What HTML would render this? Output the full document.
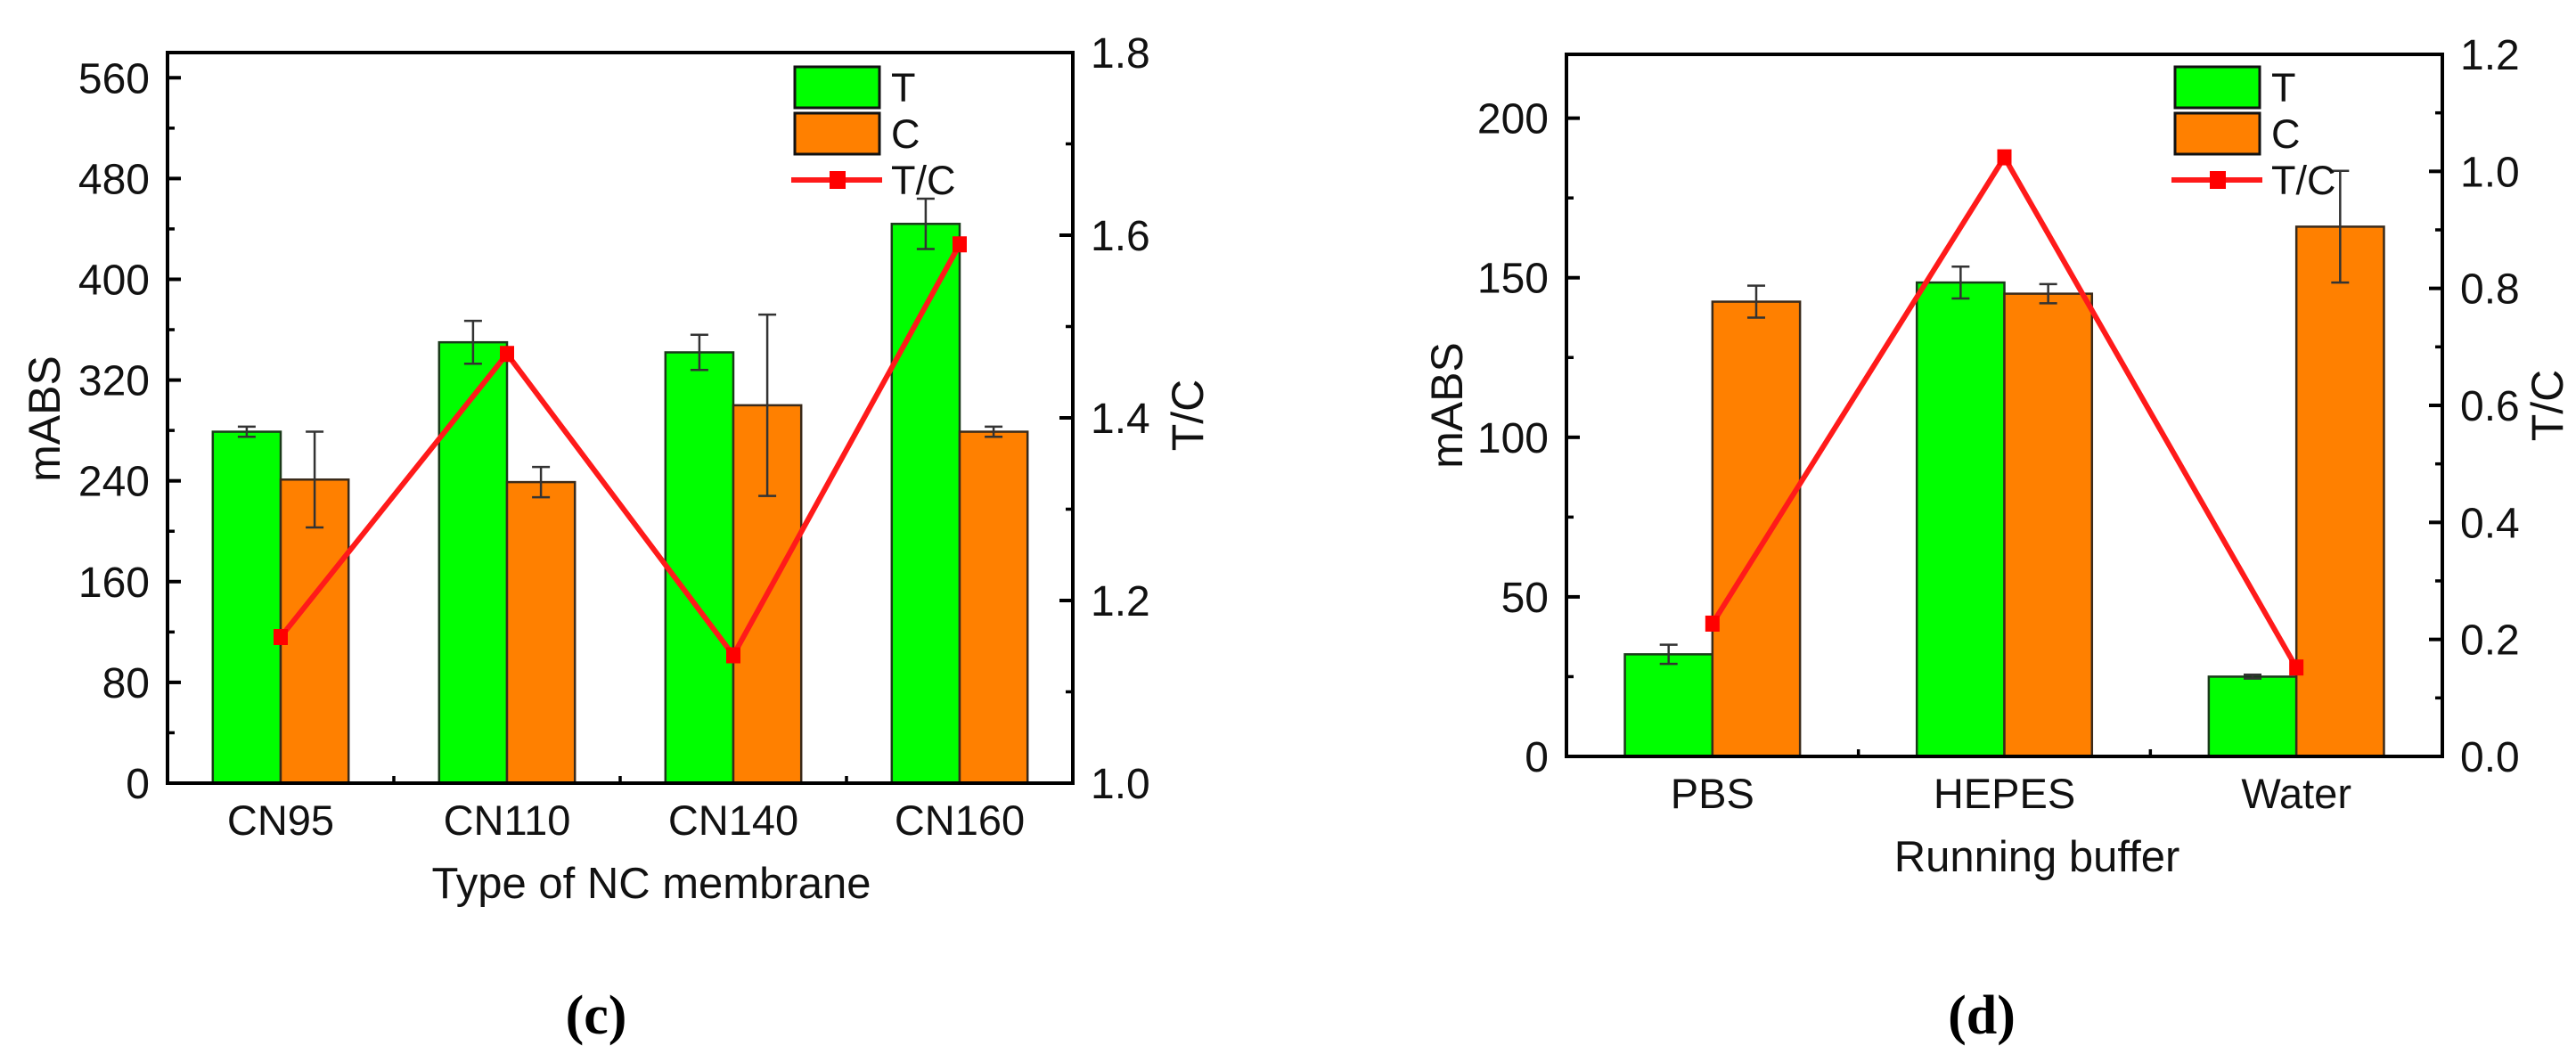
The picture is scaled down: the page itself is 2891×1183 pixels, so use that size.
<!DOCTYPE html>
<html><head><meta charset="utf-8"><style>
html,body{margin:0;padding:0;background:#fff;}
svg{display:block;font-family:"Liberation Sans",Arial,sans-serif;}
</style></head><body>
<svg id="fig" width="2891" height="1183" viewBox="0 0 2891 1183" xmlns="http://www.w3.org/2000/svg"></svg>
<script>
// Chart c data
const catsC = ["CN95","CN110","CN140","CN160"];
const tValsC = [279, 350, 342, 444];
const tErrC = [4, 17, 14, 20];
const cValsC = [241, 239, 300, 279];
const cErrC = [38, 12, 72, 4];
const ratioC = [1.16, 1.47, 1.14, 1.59];
const leftTicksC = [0,80,160,240,320,400,480,560];
const rightTicksC = ["1.0","1.2","1.4","1.6","1.8"];
// Chart d data
const catsD = ["PBS","HEPES","Water"];
const tValsD = [32, 148.5, 25];
const tErrD = [3, 5, 0.6];
const cValsD = [142.5, 145, 166];
const cErrD = [5, 3, 17.5];
const ratioD = [0.227, 1.024, 0.152];
const leftTicksD = [0,50,100,150,200];
const rightTicksD = ["0.0","0.2","0.4","0.6","0.8","1.0","1.2"];

const NS="http://www.w3.org/2000/svg";
const svg=document.getElementById('fig');
function mk(tag,attrs,parent,text){const e=document.createElementNS(NS,tag);for(const k in attrs)e.setAttribute(k,attrs[k]);if(text!==undefined)e.textContent=text;(parent||svg).appendChild(e);return e;}

function chart(o){
  const g=mk('g',{});
  
  
  const X0=o.x0,X1=o.x1,Y0=o.y0,Y1=o.y1;
  const n=o.cats.length, sp=(X1-X0)/n;
  const xc=i=>X0+sp*(i+0.5);
  const yL=v=>Y1-(v-o.lmin)/(o.lmax-o.lmin)*(Y1-Y0);
  const yR=v=>Y1-(v-o.rmin)/(o.rmax-o.rmin)*(Y1-Y0);
  const bw=sp*0.3;
  // bars
  for(let i=0;i<n;i++){
    const tb=mk('rect',{x:xc(i)-bw,y:yL(o.t[i]),width:bw,height:Y1-yL(o.t[i]),fill:'#00ff00',stroke:'#1a3a1a','stroke-width':2.5},g);
    
    
    const cb=mk('rect',{x:xc(i),y:yL(o.c[i]),width:bw,height:Y1-yL(o.c[i]),fill:'#ff8000',stroke:'#3a2a1a','stroke-width':2.5},g);
    
    
  }
  // error bars
  function err(x,v,e,nm){
    const eg=mk('g',{stroke:'#333','stroke-width':2.5},g);
    
    
    const a=yL(v+e),b=yL(v-e);
    mk('line',{x1:x,x2:x,y1:a,y2:b},eg);
    mk('line',{x1:x-10,x2:x+10,y1:a,y2:a},eg);
    mk('line',{x1:x-10,x2:x+10,y1:b,y2:b},eg);
  }
  for(let i=0;i<n;i++){err(xc(i)-bw/2,o.t[i],o.te[i],'error-bar-t');err(xc(i)+bw/2,o.c[i],o.ce[i],'error-bar-c');}
  // line
  const pts=o.r.map((v,i)=>xc(i)+','+yR(v)).join(' ');
  const pl=mk('polyline',{points:pts,fill:'none',stroke:'#ff1a1a','stroke-width':6},g);
  
  
  o.r.forEach((v,i)=>{const m=mk('rect',{x:xc(i)-8,y:yR(v)-9,width:16,height:18,fill:'#ff0000'},g);
    
    });
  // axes frame
  const fr=mk('rect',{x:X0,y:Y0,width:X1-X0,height:Y1-Y0,fill:'none',stroke:'#000','stroke-width':4},g);
  
  
  // left ticks
  o.lt.forEach((v,i)=>{const y=yL(v);mk('line',{x1:X0,x2:X0+15,y1:y,y2:y,stroke:'#000','stroke-width':4},g);
    const t=mk('text',{x:X0-20,y:y+17,'font-size':48,'text-anchor':'end',fill:'#111'},g,String(v));
    
    
    if(i<o.lt.length-1){const ym=yL(v+o.lstep/2);mk('line',{x1:X0,x2:X0+8,y1:ym,y2:ym,stroke:'#000','stroke-width':3.5},g);}
  });
  if(o.lextraMinor){const ym=yL(o.lt[o.lt.length-1]+o.lstep/2);if(ym>Y0+3)mk('line',{x1:X0,x2:X0+8,y1:ym,y2:ym,stroke:'#000','stroke-width':3.5},g);}
  // right ticks
  o.rt.forEach((s,i)=>{const v=parseFloat(s);const y=yR(v);mk('line',{x1:X1-15,x2:X1,y1:y,y2:y,stroke:'#000','stroke-width':4},g);
    const t=mk('text',{x:X1+20,y:y+17,'font-size':48,fill:'#111'},g,s);
    
    
    if(i<o.rt.length-1){const ym=yR(v+o.rstep/2);mk('line',{x1:X1-8,x2:X1,y1:ym,y2:ym,stroke:'#000','stroke-width':3.5},g);}
  });
  // x ticks & labels
  for(let i=0;i<n;i++){
    const t=mk('text',{x:xc(i),y:Y1+58,'font-size':47,'text-anchor':'middle',fill:'#111'},g,o.cats[i]);
    
    
    if(i>0)mk('line',{x1:X0+sp*i,x2:X0+sp*i,y1:Y1,y2:Y1-8,stroke:'#000','stroke-width':3.5},g);
  }
  const xt=mk('text',{x:o.xtx,y:o.xty,'font-size':49,'text-anchor':'middle',fill:'#111'},g,o.xtitle);
  
  
  const yt=mk('text',{x:0,y:0,'font-size':50,'text-anchor':'middle',fill:'#111',transform:`translate(${o.ylx},${o.yly}) rotate(-90)`},g,'mABS');
  
  
  const yr=mk('text',{x:0,y:0,'font-size':50,'text-anchor':'middle',fill:'#111',transform:`translate(${o.yrx},${o.yry}) rotate(-90)`},g,'T/C');
  
  
  // legend
  const lg=mk('g',{},g);
  
  
  const lx=o.lgx;
  mk('rect',{x:lx,y:75,width:95,height:46,fill:'#00ff00',stroke:'#111','stroke-width':3},lg);
  mk('rect',{x:lx,y:127,width:95,height:46,fill:'#ff8000',stroke:'#111','stroke-width':3},lg);
  mk('line',{x1:lx-4,x2:lx+98,y1:202,y2:202,stroke:'#ff1a1a','stroke-width':6},lg);
  mk('rect',{x:lx+39,y:192,width:18,height:20,fill:'#ff0000'},lg);
  mk('text',{x:lx+108,y:114,'font-size':45,fill:'#111'},lg,'T');
  mk('text',{x:lx+108,y:166,'font-size':45,fill:'#111'},lg,'C');
  mk('text',{x:lx+108,y:218,'font-size':45,fill:'#111'},lg,'T/C');
  const pn=mk('text',{x:o.px,y:1160,'font-size':62,'font-weight':'bold','text-anchor':'middle','font-family':'"Liberation Serif",serif',fill:'#000'},g,o.panel);
  
  
}

chart({name:'chart-c',x0:188,x1:1204,y0:59,y1:879,cats:catsC,t:tValsC,te:tErrC,c:cValsC,ce:cErrC,r:ratioC,
  lmin:0,lmax:580,rmin:1.0,rmax:1.8,lt:leftTicksC,lstep:80,lextraMinor:false,rt:rightTicksC,rstep:0.2,
  xtitle:'Type of NC membrane',xtx:731,xty:1008,ylx:67,yly:470,yrx:1350,yry:466,lgx:892,panel:'(c)',px:669});
chart({name:'chart-d',x0:1758,x1:2741,y0:61,y1:849,cats:catsD,t:tValsD,te:tErrD,c:cValsD,ce:cErrD,r:ratioD,
  lmin:0,lmax:220,rmin:0,rmax:1.2,lt:leftTicksD,lstep:50,lextraMinor:true,rt:rightTicksD,rstep:0.2,
  xtitle:'Running buffer',xtx:2286,xty:978,ylx:1641,yly:455,yrx:2876,yry:455,lgx:2441,panel:'(d)',px:2224});
</script>
</body></html>
